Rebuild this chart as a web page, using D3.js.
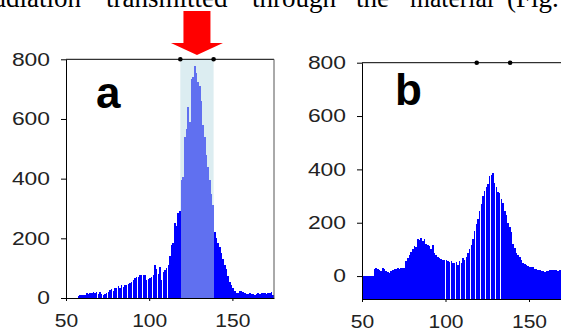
<!DOCTYPE html>
<html>
<head>
<meta charset="utf-8">
<script src="https://cdn.jsdelivr.net/npm/d3@7"></script>
<style>
  body { margin: 0; background: #fff; }
  svg { display: block; }
  .tick text { font-family: "Liberation Sans", Arial, sans-serif; font-size: 18px; fill: #222; }
</style>
</head>
<body>
<svg id="chart" width="561" height="334"></svg>
<script>
// histogram bins (left edge of each 1-unit bin)
const binsA = d3.range(57, 175);
const countsA = [
  8, 9, 9, 9, 10, 17, 14, 18, 16, 19, 17, 20, 15, 19, 12, 10, 15, 17, 20, 28,
  30, 24, 32, 35, 40, 33, 42, 38, 45, 42, 47, 50, 55, 62, 68, 72, 70, 78, 76, 78,
  78, 60, 65, 68, 72, 78, 110, 98, 80, 105, 62, 88, 95, 100, 110, 140, 178, 185, 252, 240,
  285, 290, 395, 405, 540, 565, 640, 590, 735, 740, 778, 755, 725, 712, 660, 580, 540, 480, 440, 395,
  350, 312, 222, 200, 185, 172, 150, 130, 110, 97, 75, 55, 42, 35, 25, 18, 16, 23, 22, 20,
  16, 15, 15, 16, 14, 15, 10, 15, 16, 15, 17, 16, 17, 15, 18, 17, 20, 10
];
const binsB = d3.range(50, 175);
const countsB = [
  0, 0, 0, 0, 0, 0, 0, 25, 29, 25, 22, 20, 29, 27, 18, 15, 12, 18, 22, 25,
  27, 29, 28, 29, 30, 30, 55, 68, 80, 90, 100, 112, 110, 138, 135, 141, 130, 138, 120, 115,
  112, 102, 115, 85, 80, 72, 68, 65, 62, 60, 62, 55, 52, 58, 50, 48, 52, 40, 55, 50,
  68, 62, 70, 85, 100, 115, 140, 170, 195, 215, 245, 270, 300, 320, 335, 345, 375, 380, 387, 350,
  335, 316, 310, 290, 275, 245, 230, 200, 185, 165, 120, 105, 88, 80, 72, 60, 48, 45, 40, 36,
  35, 33, 35, 27, 25, 22, 22, 18, 20, 17, 18, 20, 22, 24, 22, 24, 22, 18, 24, 22,
  21, 20, 22, 20, 20
];
const window_ = [118.7, 138.7];   // selected range marked by the dots
const yTicks = [0, 200, 400, 600, 800];
const xTicks = [50, 100, 150];
// body text line clipped at the top of the figure (justified, so words placed one by one)
const titleWords = ["radiation", "transmitted", "through", "the", "material", "(Fig."];
const titleX = [-15, 106, 252, 356, 410, 507];

const svg = d3.select('#chart');

svg.append('g').selectAll('text')
  .data(titleWords)
  .enter().append('text')
  .attr('x', (d, i) => titleX[i])
  .attr('y', 7)
  .attr('font-family', '"Liberation Serif", "Times New Roman", serif')
  .attr('font-size', 27)
  .attr('fill', '#000')
  .attr('textLength', d => d === 'material' ? 84 : null)
  .attr('lengthAdjust', 'spacingAndGlyphs')
  .text(d => d);

function panel(opts) {
  const { bins, counts, xRange, yDomain, yRange, label, labelPos, highlight } = opts;
  const g = svg.append('g');

  const x = d3.scaleLinear().domain([50, 175]).range(xRange);
  const y = d3.scaleLinear().domain(yDomain).range(yRange);
  const base = y(yDomain[0]);
  // bars are snapped to whole pixels; the slightly short width leaves the
  // thin light seams seen in the original raster
  const left = d => Math.round(x(d));
  const right = d => Math.round(x(d + 1) - 0.116);

  if (highlight) {
    g.append('rect')
      .attr('x', x(window_[0]))
      .attr('y', y(800))
      .attr('width', x(window_[1]) - x(window_[0]))
      .attr('height', y(0) - y(800))
      .attr('fill', '#dcedf1');
  }

  g.selectAll('rect.bar')
    .data(bins)
    .enter().append('rect')
    .attr('class', 'bar')
    .attr('x', d => left(d))
    .attr('width', d => Math.max(0, right(d) - left(d)))
    .attr('y', (d, i) => Math.round(y(counts[i])))
    .attr('height', (d, i) => Math.round(base) - Math.round(y(counts[i])))
    .attr('shape-rendering', 'crispEdges')
    .attr('fill', d => (highlight && d >= 119 && d < 139) ? '#6070f0' : '#0000ff');

  // frame
  g.append('line')
    .attr('x1', xRange[0]).attr('x2', xRange[1])
    .attr('y1', y(800)).attr('y2', y(800))
    .attr('stroke', '#000');
  if (highlight) {
    g.append('line')
      .attr('x1', xRange[1]).attr('x2', xRange[1])
      .attr('y1', y(800)).attr('y2', base)
      .attr('stroke', '#555');
  }

  g.append('g')
    .attr('transform', `translate(${xRange[0]},0)`)
    .call(d3.axisLeft(y).tickValues(yTicks).tickSize(5).tickPadding(11).tickSizeOuter(0))
    .call(a => a.select('.domain').attr('stroke', '#000'))
    .call(a => a.selectAll('.tick text')
      .attr('x', -16 / 1.27)
      .attr('transform', 'scale(1.27,1)'));

  g.append('g')
    .attr('transform', `translate(0,${base})`)
    .call(d3.axisBottom(x).tickValues(xTicks).tickSize(3).tickPadding(13).tickSizeOuter(0))
    .call(a => a.select('.domain').attr('stroke', '#000'))
    .call(a => a.selectAll('.tick text').attr('transform', 'scale(1.17,1)'));

  g.selectAll('circle.mark')
    .data(window_)
    .enter().append('circle')
    .attr('class', 'mark')
    .attr('cx', d => x(d))
    .attr('cy', y(800))
    .attr('r', 2.3)
    .attr('fill', '#000');

  g.append('text')
    .attr('x', labelPos[0])
    .attr('y', labelPos[1])
    .attr('font-family', '"Liberation Sans", Arial, sans-serif')
    .attr('font-weight', 'bold')
    .attr('font-size', 44)
    .attr('fill', '#000')
    .text(label);

  return { x, y };
}

const a = panel({
  bins: binsA, counts: countsA,
  xRange: [66, 274], yDomain: [0, 800], yRange: [298, 59.3],
  label: 'a', labelPos: [96, 108], highlight: true
});

panel({
  bins: binsB, counts: countsB,
  xRange: [362, 570.75], yDomain: [-86, 800], yRange: [299, 62.7],
  label: 'b', labelPos: [395, 105], highlight: false
});

// red arrow pointing at the selected window
const cx = a.x((window_[0] + window_[1]) / 2);
const arrow = d3.path();
arrow.moveTo(cx - 13.5, 11);
arrow.lineTo(cx + 13.5, 11);
arrow.lineTo(cx + 13.5, 43);
arrow.lineTo(cx + 26, 43);
arrow.lineTo(cx, 55);
arrow.lineTo(cx - 26, 43);
arrow.lineTo(cx - 13.5, 43);
arrow.closePath();
svg.append('path').attr('d', arrow.toString()).attr('fill', '#ff0000');
</script>
</body>
</html>
